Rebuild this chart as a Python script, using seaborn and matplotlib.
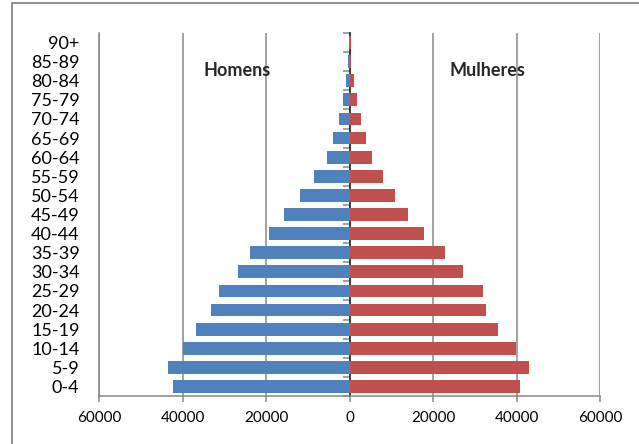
import matplotlib
matplotlib.use("Agg")
import matplotlib.pyplot as plt
from matplotlib.patches import Rectangle
import numpy as np
import pandas as pd
import seaborn as sns

# Age groups, oldest at the top
faixas = ["90+", "85-89", "80-84", "75-79", "70-74", "65-69", "60-64", "55-59",
          "50-54", "45-49", "40-44", "35-39", "30-34", "25-29", "20-24",
          "15-19", "10-14", "5-9", "0-4"]
homens = [150, 400, 800, 1450, 2400, 3850, 5400, 8450, 11900, 15650,
          19350, 23900, 26650, 31350, 33200, 36700, 40000, 43450, 42250]
mulheres = [350, 450, 1050, 1750, 2650, 3850, 5350, 8000, 10800, 13900,
            17850, 22900, 27100, 31900, 32700, 35600, 39850, 42950, 40800]
x_ticks = [-60000, -40000, -20000, 0, 20000, 40000, 60000]

df = pd.DataFrame({
    "faixa": faixas * 2,
    "valor": [-v for v in homens] + mulheres,
    "sexo": ["Homens"] * len(faixas) + ["Mulheres"] * len(faixas),
})

sns.set_theme(style="white")
plt.rcParams["font.family"] = ["Lato", "DejaVu Sans"]

grid_col = "#878787"
fig = plt.figure(figsize=(6.39, 4.44), dpi=100)
ax = fig.add_axes([99 / 639, 1 - 396 / 444, 501 / 639, 363 / 444])

sns.barplot(data=df, x="valor", y="faixa", hue="sexo", order=faixas,
            palette={"Homens": "#4F81BD", "Mulheres": "#C0504D"},
            saturation=1, dodge=False, width=0.67, orient="h", legend=False,
            ax=ax, linewidth=0, zorder=3)

ax.set_xlim(-60000, 60000)
ax.set_ylim(len(faixas) - 0.5, -0.5)
ax.set_xticks(x_ticks)
ax.set_xticklabels([str(abs(t)) for t in x_ticks])
ax.set_xlabel("")
ax.set_ylabel("")

# vertical gridlines
for t in x_ticks:
    if t != 0:
        ax.axvline(t, color=grid_col, lw=1.1, zorder=1)

for s in ["top", "right"]:
    ax.spines[s].set_visible(False)
for s in ["left", "bottom"]:
    ax.spines[s].set_color(grid_col)
    ax.spines[s].set_linewidth(1.1)

ax.tick_params(axis="x", which="major", direction="out", length=4.5,
               width=1.1, color=grid_col, labelsize=11, pad=6,
               labelcolor="black", bottom=True)
ax.tick_params(axis="y", length=0, labelsize=13, pad=14, labelcolor="black")

# category axis at zero with tick marks between groups
sec = ax.secondary_yaxis(0.5, functions=(lambda y: y, lambda y: y))
sec.set_yticks(np.arange(-0.5, len(faixas), 1.0))
sec.set_yticklabels([])
sec.spines["left"].set_color(grid_col)
sec.spines["left"].set_linewidth(1.1)
sec.tick_params(axis="y", direction="out", length=5, width=1.1,
                color=grid_col, left=True, right=False)

ax.text(0.275, 0.898, "Homens", transform=ax.transAxes, ha="center",
        va="center", fontsize=13, fontweight="bold", zorder=5)
ax.text(0.776, 0.898, "Mulheres", transform=ax.transAxes, ha="center",
        va="center", fontsize=13, fontweight="bold", zorder=5)

# chart frame
fig.patches.append(Rectangle((12 / 639, -0.1), 1.2, 1.1 - 3 / 444,
                             transform=fig.transFigure, fill=False,
                             edgecolor=grid_col, lw=1.3))

fig.savefig("out.png", dpi=100)
